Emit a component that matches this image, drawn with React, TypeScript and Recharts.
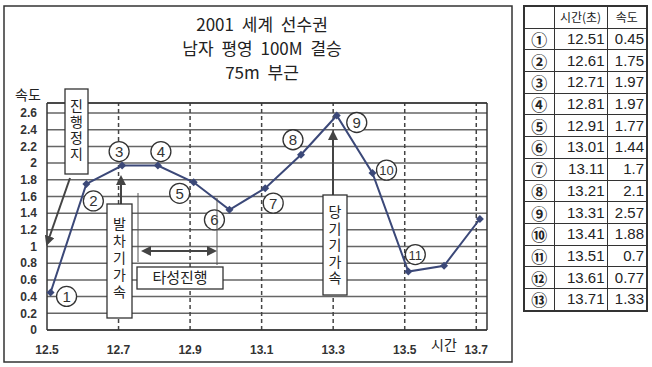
import { FC } from "react";
import { LineChart, Line, XAxis, YAxis, CartesianGrid, ReferenceLine } from "recharts";

// 2001 세계 선수권 남자 평영 100M 결승, 75m 부근
const times: number[] = [12.51, 12.61, 12.71, 12.81, 12.91, 13.01, 13.11, 13.21, 13.31, 13.41, 13.51, 13.61, 13.71];
const speeds: number[] = [0.45, 1.75, 1.97, 1.97, 1.77, 1.44, 1.7, 2.1, 2.57, 1.88, 0.7, 0.77, 1.33];
const marks: string[] = ["①", "②", "③", "④", "⑤", "⑥", "⑦", "⑧", "⑨", "⑩", "⑪", "⑫", "⑬"];
const xTicks: number[] = [12.5, 12.7, 12.9, 13.1, 13.3, 13.5, 13.7];
const yTicks: number[] = [0, 0.2, 0.4, 0.6, 0.8, 1, 1.2, 1.4, 1.6, 1.8, 2, 2.2, 2.4, 2.6];
const titleLines: string[] = ["2001 세계 선수권", "남자 평영 100M 결승", "75m 부근"];

// where the circled point numbers sit relative to each point (first 11 only)
const labelOffsets: number[][] = [
  [16, 4], [7, 17], [-3, -14], [3, -14], [-14, 11], [-15, 10],
  [8, 15], [-8, -15], [20, 7], [14, -3], [7, -17],
];

const KR = '"Noto Sans CJK KR", "Noto Sans", sans-serif';
const ink = "#3b4878";

const data = times.map((t, i) => ({ t, v: speeds[i] }));

const PointDot = (props: any) => {
  const { cx, cy, index } = props;
  const off = labelOffsets[index];
  return (
    <g key={"d" + index}>
      <path d={`M${cx},${cy - 4} L${cx + 4},${cy} L${cx},${cy + 4} L${cx - 4},${cy} Z`} fill={ink} />
      {off && (
        <g>
          <circle cx={cx + off[0]} cy={cy + off[1]} r={10} fill="#fff" stroke="#333" strokeWidth={1.3} />
          <text
            x={cx + off[0]}
            y={cy + off[1] + (index >= 9 ? 5 : 5.5)}
            textAnchor="middle"
            fontFamily='"Liberation Sans", Arial, sans-serif'
            fontSize={index >= 9 ? 13 : 15}
            fill="#333"
          >
            {index + 1}
          </text>
        </g>
      )}
    </g>
  );
};

// one vertical text run, top to bottom
const VText: FC<{ x: number; y: number; chars: string; gap: number }> = ({ x, y, chars, gap }) => (
  <text
    x={x}
    y={y}
    fontFamily={KR}
    fontSize={14}
    fill="#222"
    style={{ writingMode: "vertical-rl", letterSpacing: gap }}
  >
    {chars}
  </text>
);

const cell = {
  border: "1.5px solid #333",
  padding: "0 2px",
  height: 20.7,
  fontFamily: '"Liberation Sans", Arial, sans-serif',
  fontSize: 15,
  color: "#222",
  textAlign: "right" as const,
  lineHeight: "20px",
};

const App: FC = () => {
  return (
    <div style={{ position: "absolute", left: 0, top: 0, width: 652, height: 367, background: "#fff" }}>
      <LineChart width={652} height={367} data={data} margin={{ top: 103, right: 165, bottom: 7, left: 7 }}>
        <CartesianGrid vertical={false} stroke="#666" strokeWidth={1.5} />
        {xTicks.slice(1).map((t) => (
          <ReferenceLine key={t} x={t} stroke="#444" strokeWidth={1.5} strokeDasharray="4 3" />
        ))}
        <ReferenceLine x={13.73} stroke="#333" strokeWidth={1.5} />
        <ReferenceLine y={2.72} stroke="#333" strokeWidth={1.5} />
        <XAxis
          type="number"
          dataKey="t"
          domain={[12.5, 13.73]}
          ticks={xTicks}
          interval={0}
          tickFormatter={(v: number) => v.toFixed(1)}
          height={30}
          tickLine={false}
          tickMargin={9}
          axisLine={{ stroke: "#333", strokeWidth: 1.5 }}
          tick={{ fontFamily: '"Liberation Sans", Arial, sans-serif', fontSize: 12, fontWeight: "bold", fill: "#333" }}
        />
        <YAxis
          type="number"
          domain={[0, 2.72]}
          ticks={yTicks}
          interval={0}
          width={40}
          tickLine={false}
          tickMargin={4}
          axisLine={{ stroke: "#333", strokeWidth: 1.5 }}
          tick={{ fontFamily: '"Liberation Sans", Arial, sans-serif', fontSize: 12, fontWeight: "bold", fill: "#333" }}
        />
        <Line dataKey="v" stroke={ink} strokeWidth={2} dot={PointDot} activeDot={false} isAnimationActive={false} />
      </LineChart>

      <svg width={652} height={367} style={{ position: "absolute", left: 0, top: 0, pointerEvents: "none" }}>
        <defs>
          <marker id="ah" viewBox="0 0 10 10" refX="8" refY="5" markerWidth="5" markerHeight="5" orient="auto-start-reverse">
            <path d="M0,0 L10,5 L0,10 Z" fill="#444" />
          </marker>
        </defs>
        <rect x={4} y={6} width={508} height={356} fill="none" stroke="#333" strokeWidth={1.5} />
        {titleLines.map((s, i) => (
          <text key={i} x={262} y={31 + i * 24} textAnchor="middle" fontFamily={KR} fontSize={17} fill="#222" style={{ wordSpacing: 4 }}>
            {s}
          </text>
        ))}
        <text x={28} y={100} textAnchor="middle" fontFamily={KR} fontSize={14} fill="#222">속도</text>
        <text x={444} y={350} textAnchor="middle" fontFamily={KR} fontSize={14} fill="#222">시간</text>

        {/* 진행정지 */}
        <line x1={70} y1={178} x2={47} y2={244} stroke="#444" strokeWidth={2} markerEnd="url(#ah)" />
        <rect x={65} y={89} width={23} height={85} fill="#fff" stroke="#333" strokeWidth={1.3} />
        <VText x={76.5} y={99} chars="진행정지" gap={2} />

        {/* 발차기가속 */}
        <line x1={121} y1={204} x2={121} y2={177} stroke="#444" strokeWidth={2} markerEnd="url(#ah)" />
        <rect x={107} y={204} width={25} height={114} fill="#fff" stroke="#333" strokeWidth={1.3} />
        <VText x={119.5} y={217} chars="발차기가속" gap={3} />

        {/* 타성진행 */}
        <line x1={138} y1={193} x2={138} y2={262} stroke="#555" strokeWidth={1} />
        <line x1={217} y1={198} x2={217} y2={265} stroke="#555" strokeWidth={1} />
        <line x1={143} y1={251} x2={215} y2={251} stroke="#444" strokeWidth={2} markerStart="url(#ah)" markerEnd="url(#ah)" />
        <rect x={137} y={267} width={86} height={22} fill="#fff" stroke="#333" strokeWidth={1.3} />
        <text x={180} y={283} textAnchor="middle" fontFamily={KR} fontSize={15} fill="#222">타성진행</text>

        {/* 당기기가속 */}
        <line x1={333} y1={195} x2={333} y2={132} stroke="#444" strokeWidth={2} markerEnd="url(#ah)" />
        <rect x={323} y={195} width={24} height={100} fill="#fff" stroke="#333" strokeWidth={1.3} />
        <VText x={335} y={205} chars="당기기가속" gap={2.5} />
      </svg>

      <table
        style={{
          position: "absolute",
          left: 523,
          top: 5,
          borderCollapse: "collapse",
          tableLayout: "fixed",
          width: 123,
          border: "2.5px solid #333",
        }}
      >
        <colgroup>
          <col style={{ width: 30 }} />
          <col style={{ width: 53 }} />
          <col style={{ width: 40 }} />
        </colgroup>
        <tbody>
          <tr>
            <td style={cell}></td>
            <td style={{ ...cell, fontFamily: KR, fontSize: 12, textAlign: "center" }}>시간(초)</td>
            <td style={{ ...cell, fontFamily: KR, fontSize: 12, textAlign: "center" }}>속도</td>
          </tr>
          {times.map((t, i) => (
            <tr key={i}>
              <td style={{ ...cell, fontFamily: KR, fontWeight: "bold", textAlign: "center", fontSize: 16 }}>{marks[i]}</td>
              <td style={cell}>{t.toFixed(2)}</td>
              <td style={cell}>{speeds[i]}</td>
            </tr>
          ))}
        </tbody>
      </table>
    </div>
  );
};

export default App;
